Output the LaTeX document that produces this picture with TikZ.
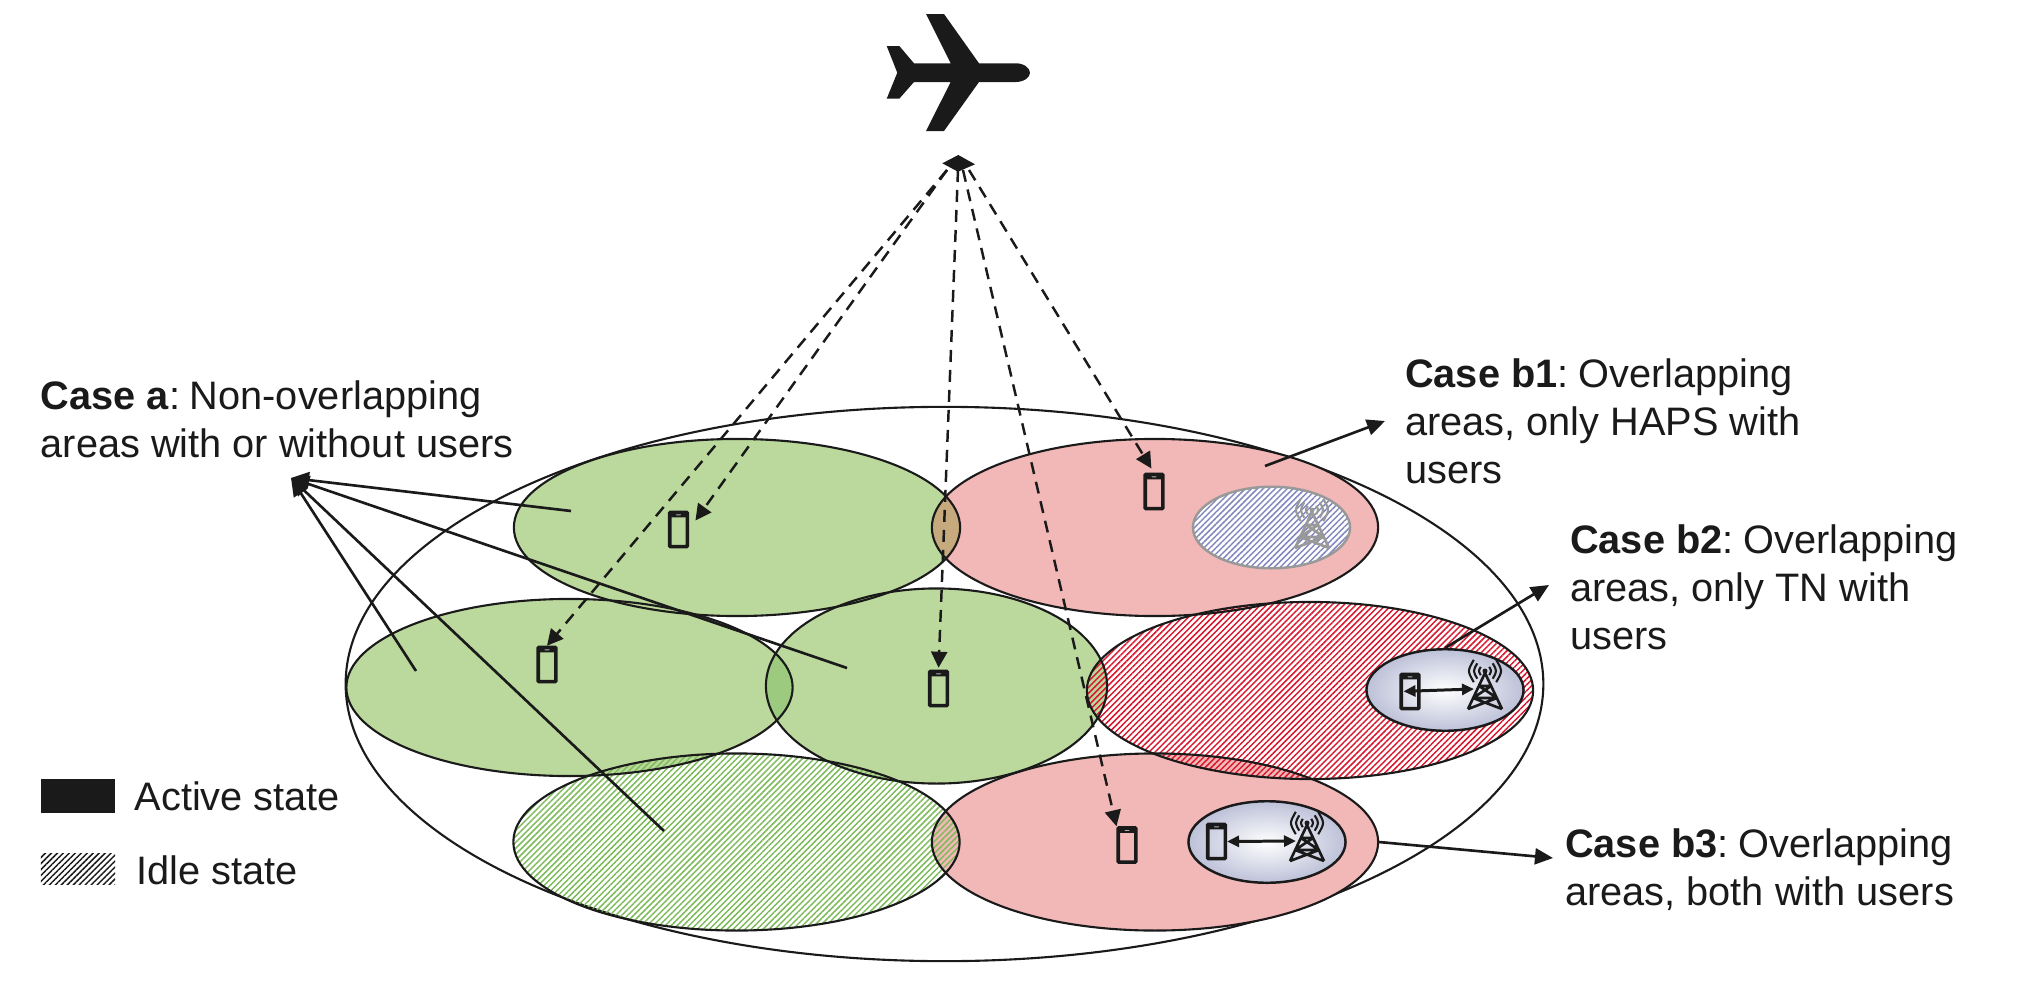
\documentclass[tikz,border=0pt]{standalone}
\usepackage{fontspec}
\setmainfont{Liberation Sans}
\usetikzlibrary{positioning,shapes.geometric,arrows.meta,patterns.meta,shadings}

\definecolor{ink}{HTML}{1A1A1A}
\definecolor{cellgreen}{HTML}{BCD99D}
\definecolor{cellpink}{HTML}{F2B8B7}
\definecolor{lensbrown}{HTML}{C6A97C}
\definecolor{lensgreen}{HTML}{9CCB80}
\definecolor{idlegreen}{HTML}{7DBB5A}
\definecolor{idlered}{HTML}{D8182F}
\definecolor{idleblue}{HTML}{8487BE}
\definecolor{tnblue}{HTML}{BDC1D8}

\tikzset{
  cell/.style={ellipse, inner sep=0pt, minimum width=4.46cm, minimum height=1.77cm},
  midcell/.style={ellipse, inner sep=0pt, minimum width=3.41cm, minimum height=1.95cm},
  tncell/.style={ellipse, inner sep=0pt, minimum width=1.57cm, minimum height=.815cm, draw=ink, line width=.7pt, inner color=white, outer color=tnblue},
  hatched/.style={pattern={Lines[angle=45, distance=1.2pt, line width=.42pt]}, pattern color=#1},
  phone/.style={rectangle, inner sep=0pt, minimum width=.175cm, minimum height=.34cm, draw=ink, line width=1pt, rounded corners=.2pt,
    path picture={
      \fill[ink] (path picture bounding box.north west) rectangle ([yshift=-.05cm]path picture bounding box.north east);
      \fill[gray!60] ([xshift=-.025cm, yshift=-.012cm]path picture bounding box.north) rectangle ([xshift=.025cm, yshift=-.028cm]path picture bounding box.north);
    }},
  caption/.style={inner sep=0pt, anchor=north west, align=left, text=ink, font=\fontsize{11.3}{13.65}\selectfont},
  outline/.style={draw=ink, line width=.6pt},
  beam/.style={draw=ink, line width=.7pt, dash pattern=on .12cm off .08cm, -{Triangle[length=.16cm, width=.16cm]}},
  pointer/.style={draw=ink, line width=.75pt, -{Triangle[length=.18cm, width=.16cm]}},
  link/.style={draw=ink, line width=.85pt, {Triangle[length=.12cm, width=.11cm]}-{Triangle[length=.12cm, width=.11cm]}},
  tower/.pic={
    \draw[line width=.75pt, line join=round] (-17,36) -- (0,0) -- (17,36) (-6,13) -- (6,13) -- (-12,25) -- (12,25) -- (-6,13) (-12,25) -- (17,36) (12,25) -- (-17,36);
    \fill (0,-2) circle [radius=.025cm];
    \foreach \r in {6,11,16} {
      \draw[line width=.6pt] ({-.7*\r},{-2-.7*\r}) .. controls ({-1.1*\r},-2) .. ({-.7*\r},{-2+.7*\r});
      \draw[line width=.6pt] ({.7*\r},{-2-.7*\r}) .. controls ({1.1*\r},-2) .. ({.7*\r},{-2+.7*\r});
    }
    \coordinate (-feed) at (-11,16);
  }
}

\begin{document}
\begin{tikzpicture}[x=.01cm, y=-.01cm]
\useasboundingbox (0,0) rectangle (2032,1000);
% Coverage
\node[ellipse, inner sep=0pt, minimum width=11.97cm, minimum height=5.54cm, outline] (area) at (944.5,684) {};
% Cells
\node[cell, fill=cellpink] (cellD) at (1155,527.5) {};
\node[cell, fill=cellpink] (cellF) at (1155,842) {};
\node[cell, fill=cellgreen] (cellA) at (737,527.5) {};
\node[cell, fill=cellgreen] (cellB) at (569.5,687.5) {};
\node[midcell, fill=cellgreen] (cellC) at (936.5,686) {};
% Overlaps
\begin{scope}
\clip (cellA.center) ellipse [x radius=2.23cm, y radius=.885cm];
\fill[lensbrown] (cellD.center) ellipse [x radius=2.23cm, y radius=.885cm];
\fill[lensgreen] (cellC.center) ellipse [x radius=1.705cm, y radius=.975cm];
\end{scope}
\begin{scope}
\clip (cellB.center) ellipse [x radius=2.23cm, y radius=.885cm];
\fill[lensgreen] (cellC.center) ellipse [x radius=1.705cm, y radius=.975cm];
\end{scope}
% Idle cells
\node[cell, hatched=idlegreen] (cellG) at (736.5,842) {};
\node[cell, hatched=idlered] (cellE) at (1310,690.5) {};
% Outlines
\foreach \c in {cellD,cellF,cellA,cellB,cellG,cellE} {
  \node[cell, outline] (\c-line) at (\c) {};
}
\node[midcell, outline] (cellC-line) at (cellC) {};
% TN areas
\node[ellipse, inner sep=0pt, minimum width=1.57cm, minimum height=.815cm, draw=gray!80, line width=.7pt, preaction={fill=white}, hatched=idleblue] (tnA) at (1271.5,527.5) {};
\node[tncell] (tnB) at (1445,690) {};
\node[tncell] (tnC) at (1267,842) {};
% Towers
\pic[gray!80] (towerA) at (1312,512) {tower};
\pic[ink] (towerB) at (1485,673) {tower};
\pic[ink] (towerC) at (1307,825) {tower};
% Phones
\node[phone] (phoneA) at (678.5,529.5) {};
\node[phone] (phoneB) at (547,664.5) {};
\node[phone] (phoneC) at (938.5,688.5) {};
\node[phone] (phoneD) at (1154,491.5) {};
\node[phone] (phoneE) at (1127,845) {};
\node[phone] (phoneF) at (1410,691.5) {};
\node[phone] (phoneG) at (1216.5,841.5) {};
% Links
\draw[link, shorten <=.04cm] (phoneF.west) -- (towerB-feed);
\draw[link] (phoneG.east) -- (towerC-feed);
% Airplane
\fill[ink] (886.7,46) -- (899.3,46) -- (914,63.3) -- (950.7,63.3) -- (926,14) -- (944,14) -- (979,63.3) -- (1015.7,63.3) .. controls (1024,63.3) and (1030,68) .. (1030,72.7) .. controls (1030,77.4) and (1024,82) .. (1015.7,82) -- (979,82) -- (944,131) -- (926,131) -- (950.7,82) -- (914,82) -- (899.3,98.7) -- (886.7,98.7) -- (897.3,72.7) -- cycle;
% Antenna
\fill[ink] (958.3,155) -- (975,164.3) -- (958,171.7) -- (942.3,163.3) -- cycle;
\coordinate (beamL) at (947,170);
\coordinate (beamC) at (958,170);
\coordinate (beamM) at (963,170);
\coordinate (beamR) at (969,170);
% Beams
\draw[beam] (beamL) -- (phoneB.north);
\draw[beam, shorten >=.11cm] (beamL) -- (phoneA.east);
\draw[beam, shorten >=.02cm] (beamC) -- (phoneC.north);
\draw[beam] (beamM) -- (phoneE.north west);
\draw[beam, shorten >=.05cm] (beamR) -- (phoneD.north);
% Pointers
\coordinate (tipA) at (291,478);
\coordinate (fromA) at (571,511);
\coordinate (fromB) at (416,671);
\coordinate (fromC) at (847,668);
\coordinate (fromG) at (664,831);
\draw[pointer] (fromA) -- (tipA);
\draw[pointer] (fromB) -- (tipA);
\draw[pointer] (fromC) -- (tipA);
\draw[pointer] (fromG) -- (tipA);
\coordinate (fromD) at (1265,466);
\coordinate (tipD) at (1385,421);
\coordinate (tipE) at (1549,585);
\coordinate (tipF) at (1553,858);
\draw[pointer] (fromD) -- (tipD);
\draw[pointer] (tnB.north) -- (tipE);
\draw[pointer] (cellF.east) -- (tipF);
% Captions
\node[caption] (caseA) at (40,380) {\textbf{Case a}:\hspace{-.05cm} Non-overlapping\\areas with or without users};
\node[caption] (caseD) at (1404.5,358) {\textbf{Case b1}:\hspace{-.05cm} Overlapping\\areas, only HAPS with\\users};
\node[caption] (caseE) at (1569.5,524) {\textbf{Case b2}:\hspace{-.05cm} Overlapping\\areas, only TN with\\users};
\node[caption] (caseF) at (1564.5,828) {\textbf{Case b3}:\hspace{-.05cm} Overlapping\\areas, both with users};
% Legend
\node[rectangle, inner sep=0pt, minimum width=.74cm, minimum height=.33cm, fill=ink] (active) at (78,796) {};
\node[rectangle, inner sep=0pt, minimum width=.74cm, minimum height=.31cm, hatched=ink] (idle) at (78,869) {};
\node[caption, anchor=west] (activeText) at (134,796) {Active state};
\node[caption, anchor=west] (idleText) at (135.5,870) {Idle state};
\end{tikzpicture}
\end{document}
